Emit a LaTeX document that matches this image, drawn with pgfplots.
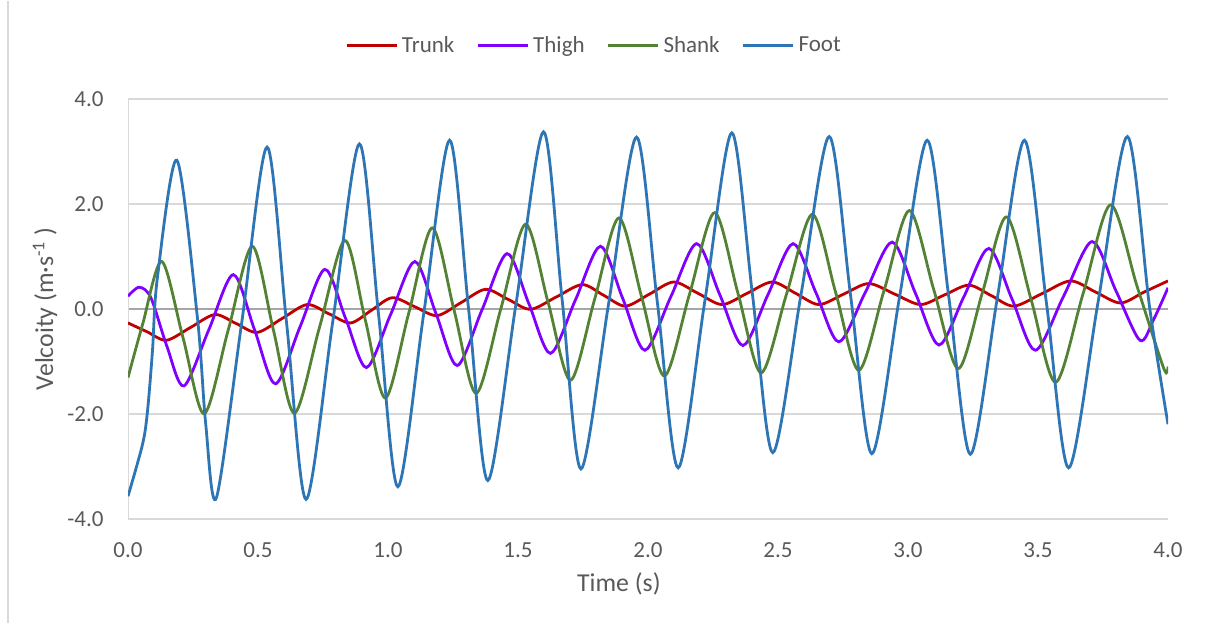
\documentclass[border=0pt]{standalone}
\usepackage{fontspec}
\setmainfont{Carlito}
\usepackage{pgfplots}
\usepackage{pgfplotstable}
\pgfplotsset{compat=1.18}

\definecolor{trunkc}{HTML}{C00000}
\definecolor{thighc}{HTML}{7F00FF}
\definecolor{shankc}{HTML}{548235}
\definecolor{footc}{HTML}{2E75B6}
\definecolor{gridgray}{HTML}{D9D9D9}
\definecolor{zerogray}{HTML}{A6A6A6}
\definecolor{textgray}{HTML}{595959}

\newcommand\cf{\fontsize{11.5}{14}\selectfont}
\newcommand\tf{\fontsize{12.9}{15}\selectfont}

% velocity traces, read off at peaks, troughs and crossings
\pgfplotstableread{
t v
0 -0.27
0.074 -0.44
0.148 -0.60
0.241 -0.355
0.334 -0.11
0.4155 -0.28
0.497 -0.45
0.593 -0.185
0.689 0.08
0.7725 -0.095
0.856 -0.27
0.936 -0.03
1.016 0.21
1.1025 0.04
1.189 -0.13
1.282 0.12
1.375 0.37
1.4615 0.18
1.548 -0.01
1.6475 0.225
1.747 0.46
1.830 0.255
1.913 0.05
2.006 0.28
2.099 0.51
2.192 0.295
2.285 0.08
2.3815 0.295
2.478 0.51
2.5675 0.295
2.657 0.08
2.753 0.28
2.849 0.48
2.9485 0.28
3.048 0.08
3.141 0.265
3.234 0.45
3.3205 0.25
3.407 0.05
3.516 0.29
3.625 0.53
3.721 0.32
3.817 0.11
3.9085 0.32
4.0 0.53
}\trunk

\pgfplotstableread{
t v
0 0.24
0.043 0.41
0.088 0.21
0.150 -0.72
0.215 -1.47
0.310 -0.41
0.405 0.65
0.486 -0.39
0.567 -1.43
0.662 -0.34
0.757 0.75
0.837 -0.185
0.917 -1.12
1.010 -0.11
1.103 0.90
1.1845 -0.09
1.266 -1.08
1.362 -0.015
1.458 1.05
1.5415 0.10
1.625 -0.85
1.721 0.17
1.817 1.19
1.9025 0.20
1.988 -0.79
2.0875 0.225
2.187 1.24
2.276 0.27
2.365 -0.70
2.4615 0.27
2.558 1.24
2.646 0.305
2.734 -0.63
2.8365 0.32
2.939 1.27
3.029 0.29
3.119 -0.69
3.215 0.23
3.311 1.15
3.4005 0.18
3.490 -0.79
3.599 0.245
3.708 1.28
3.800 0.34
3.892 -0.60
3.945 -0.20
4.0 0.40
}\thigh

\pgfplotstableread{
t v
0 -1.31
0.056 -0.30
0.130 0.90
0.2115 -0.55
0.293 -2.00
0.3855 -0.405
0.478 1.19
0.559 -0.40
0.640 -1.99
0.737 -0.345
0.834 1.30
0.912 -0.20
0.990 -1.70
1.080 -0.08
1.170 1.54
1.2545 -0.035
1.339 -1.61
1.434 0.0
1.529 1.61
1.6155 0.125
1.702 -1.36
1.795 0.185
1.888 1.73
1.9755 0.225
2.063 -1.28
2.1595 0.275
2.256 1.83
2.3455 0.305
2.435 -1.22
2.5335 0.29
2.632 1.80
2.7215 0.315
2.811 -1.17
2.908 0.35
3.005 1.87
3.099 0.365
3.193 -1.14
3.286 0.305
3.379 1.75
3.4735 0.175
3.568 -1.40
3.6735 0.29
3.779 1.98
3.8815 0.42
3.984 -1.14
4.0 -1.10
}\shank

\pgfplotstableread{
t v
0 -3.57
0.056 -2.58
0.075 -1.95
0.094 -0.81
0.113 0.59
0.188 2.83
0.267 -0.17
0.299 -2.20
0.340 -3.60
0.4375 -0.26
0.535 3.08
0.610 -0.275
0.685 -3.63
0.7875 -0.245
0.890 3.14
0.964 -0.125
1.038 -3.39
1.1375 -0.09
1.237 3.21
1.3105 -0.03
1.384 -3.27
1.491 0.05
1.598 3.37
1.670 0.16
1.742 -3.05
1.849 0.11
1.956 3.27
2.036 0.12
2.116 -3.03
2.219 0.16
2.322 3.35
2.401 0.305
2.480 -2.74
2.5885 0.27
2.697 3.28
2.779 0.26
2.861 -2.76
2.9675 0.225
3.074 3.21
3.157 0.22
3.240 -2.77
3.344 0.22
3.448 3.21
3.533 0.09
3.618 -3.03
3.731 0.125
3.844 3.28
3.930 0.0
4.0 -2.20
}\foot

\begin{document}
\cf
\begin{tikzpicture}
\begin{axis}[
    name=ax,
    at={(64pt,52pt)}, anchor=south west,
    width=520pt, height=210pt, scale only axis,
    xmin=0, xmax=4, ymin=-4, ymax=4,
    xtick={0,0.5,...,4},
    ytick={-4,-2,...,4},
    ymajorgrids,
    major grid style={color=gridgray, line width=0.75pt},
    axis line style={draw=none},
    tick style={draw=none},
    xticklabel={\pgfmathprintnumber[fixed,fixed zerofill,precision=1,assume math mode=true]{\tick}},
    yticklabel={\pgfmathprintnumber[fixed,fixed zerofill,precision=1,assume math mode=true]{\tick}},
    xticklabel style={anchor=center, yshift=-15.5pt, text=textgray, font=\cf},
    yticklabel style={anchor=east, inner sep=0pt, xshift=-12pt, text=textgray, font=\cf},
    xlabel={Time (s)},
    xlabel style={at={(axis description cs:0.472,-0.155)}, anchor=center, text=textgray, font=\tf},
    ylabel={Velcoity (m·s\textsuperscript{-1} )},
    ylabel style={at={(axis description cs:-0.0798,0.5)}, anchor=center, rotate=0, text=textgray, font=\tf},
    legend columns=4,
    legend style={draw=none, fill=none, at={(axis description cs:0.449,1.126)}, anchor=center,
        font=\cf, text=textgray,
        /tikz/every even column/.append style={column sep=9pt}},
    legend image code/.code={\draw[#1] (0pt,0pt) -- (25pt,0pt);},
    every axis plot/.append style={line width=1.4pt, smooth, tension=0.5},
]
\draw[zerogray, line width=0.75pt] (axis cs:0,0) -- (axis cs:4,0);
\draw[gridgray, line width=0.75pt] (axis cs:0,-4) -- (axis cs:0,4);
\addplot[trunkc] table[x=t, y=v] {\trunk};
\addlegendentry{Trunk}
\addplot[thighc] table[x=t, y=v] {\thigh};
\addlegendentry{Thigh}
\addplot[shankc] table[x=t, y=v] {\shank};
\addlegendentry{Shank}
\addplot[footc] table[x=t, y=v] {\foot};
\addlegendentry{Foot}
\end{axis}
\draw[gridgray, line width=0.75pt] (4pt,0pt) -- (4pt,311pt);
\useasboundingbox (0pt,0pt) rectangle (605pt,311pt);
\end{tikzpicture}
\end{document}
